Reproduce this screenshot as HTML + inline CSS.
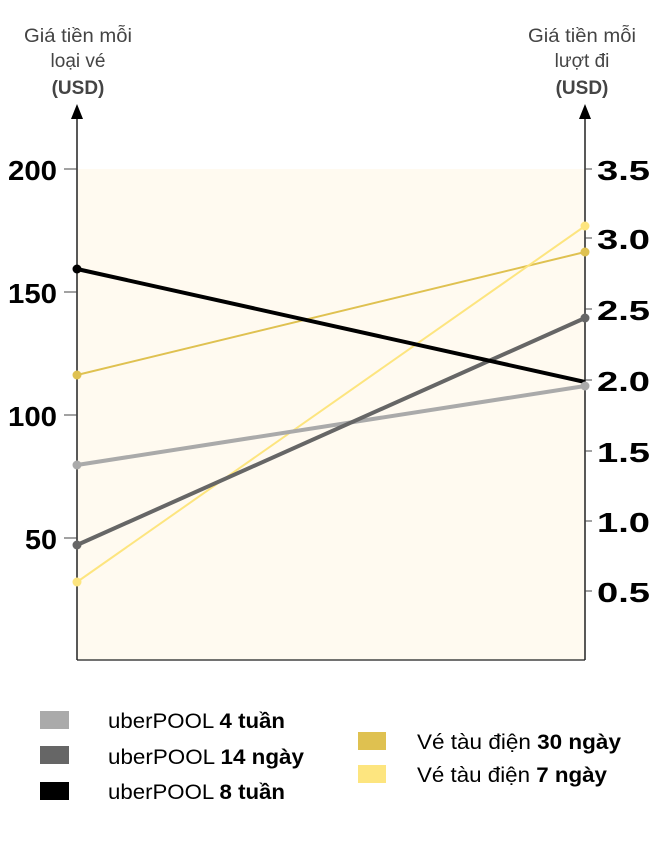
<!DOCTYPE html>
<html><head><meta charset="utf-8"><style>
body{margin:0;background:#fff;}
svg text{font-family:"Liberation Sans",sans-serif;}
</style></head><body>
<svg width="660" height="859" xmlns="http://www.w3.org/2000/svg">
<rect x="77" y="169" width="508" height="491" fill="#fffaf0"/>
<line x1="77" y1="660" x2="585" y2="660" stroke="#444" stroke-width="1.5"/>
<line x1="77" y1="116" x2="77" y2="660" stroke="#222" stroke-width="1.5"/>
<line x1="585" y1="116" x2="585" y2="660" stroke="#222" stroke-width="1.5"/>
<polygon points="77,104 71,119 83,119" fill="#000"/>
<polygon points="585,104 579,119 591,119" fill="#000"/>
<g fill="#444" font-size="19" text-anchor="middle">
<text x="78" y="42" textLength="108" lengthAdjust="spacingAndGlyphs">Giá tiền mỗi</text>
<text x="78" y="67">loại vé</text>
<text x="78" y="94" font-weight="bold">(USD)</text>
<text x="582" y="42" textLength="108" lengthAdjust="spacingAndGlyphs">Giá tiền mỗi</text>
<text x="582" y="67">lượt đi</text>
<text x="582" y="94" font-weight="bold">(USD)</text>
</g>
<g stroke="#444" stroke-width="1">
<line x1="64" y1="169" x2="77" y2="169"/><line x1="64" y1="292" x2="77" y2="292"/>
<line x1="64" y1="415" x2="77" y2="415"/><line x1="64" y1="538" x2="77" y2="538"/>
<line x1="585" y1="169" x2="592" y2="169"/><line x1="585" y1="238" x2="592" y2="238"/>
<line x1="585" y1="309" x2="592" y2="309"/><line x1="585" y1="380" x2="592" y2="380"/>
<line x1="585" y1="451" x2="592" y2="451"/><line x1="585" y1="521" x2="592" y2="521"/>
<line x1="585" y1="591" x2="592" y2="591"/>
</g>
<g font-size="28" font-weight="bold" fill="#000">
<text x="8" y="180" textLength="49" lengthAdjust="spacingAndGlyphs">200</text>
<text x="8" y="303" textLength="49" lengthAdjust="spacingAndGlyphs">150</text>
<text x="8" y="426" textLength="49" lengthAdjust="spacingAndGlyphs">100</text>
<text x="25" y="549" textLength="32" lengthAdjust="spacingAndGlyphs">50</text>
<text x="597" y="180" textLength="53" lengthAdjust="spacingAndGlyphs">3.5</text>
<text x="597" y="249" textLength="53" lengthAdjust="spacingAndGlyphs">3.0</text>
<text x="597" y="320" textLength="53" lengthAdjust="spacingAndGlyphs">2.5</text>
<text x="597" y="391" textLength="53" lengthAdjust="spacingAndGlyphs">2.0</text>
<text x="597" y="462" textLength="53" lengthAdjust="spacingAndGlyphs">1.5</text>
<text x="597" y="532" textLength="53" lengthAdjust="spacingAndGlyphs">1.0</text>
<text x="597" y="602" textLength="53" lengthAdjust="spacingAndGlyphs">0.5</text>
</g>
<line x1="77" y1="375" x2="585" y2="252" stroke="#dfc150" stroke-width="2"/>
<line x1="77" y1="582" x2="585" y2="226" stroke="#fde57f" stroke-width="2"/>
<line x1="77" y1="465" x2="585" y2="386" stroke="#aaa" stroke-width="4"/>
<line x1="77" y1="545" x2="585" y2="318" stroke="#666" stroke-width="4"/>
<line x1="77" y1="269" x2="585" y2="382" stroke="#000" stroke-width="4"/>
<g>
<circle cx="77" cy="375" r="4.5" fill="#dfc150"/><circle cx="585" cy="252" r="4.5" fill="#dfc150"/>
<circle cx="77" cy="582" r="4.5" fill="#fde57f"/><circle cx="585" cy="226" r="4.5" fill="#fde57f"/>
<circle cx="77" cy="465" r="4.5" fill="#aaa"/><circle cx="585" cy="386" r="4.5" fill="#aaa"/>
<circle cx="77" cy="545" r="4.5" fill="#666"/><circle cx="585" cy="318" r="4.5" fill="#666"/>
<circle cx="77" cy="269" r="4.5" fill="#000"/>
</g>
<rect x="40" y="711" width="29" height="18" fill="#aaa"/>
<rect x="40" y="746" width="29" height="18" fill="#666"/>
<rect x="40" y="782" width="29" height="18" fill="#000"/>
<rect x="358" y="732" width="28" height="18" fill="#dfc150"/>
<rect x="358" y="765" width="28" height="18" fill="#fde57f"/>
<g font-size="21" fill="#000">
<text x="108" y="728" textLength="177" lengthAdjust="spacingAndGlyphs">uberPOOL <tspan font-weight="bold">4 tuần</tspan></text>
<text x="108" y="764" textLength="196" lengthAdjust="spacingAndGlyphs">uberPOOL <tspan font-weight="bold">14 ngày</tspan></text>
<text x="108" y="799" textLength="177" lengthAdjust="spacingAndGlyphs">uberPOOL <tspan font-weight="bold">8 tuần</tspan></text>
<text x="417" y="749" textLength="204" lengthAdjust="spacingAndGlyphs">Vé tàu điện <tspan font-weight="bold">30 ngày</tspan></text>
<text x="417" y="782" textLength="190" lengthAdjust="spacingAndGlyphs">Vé tàu điện <tspan font-weight="bold">7 ngày</tspan></text>
</g>
</svg>
</body></html>
